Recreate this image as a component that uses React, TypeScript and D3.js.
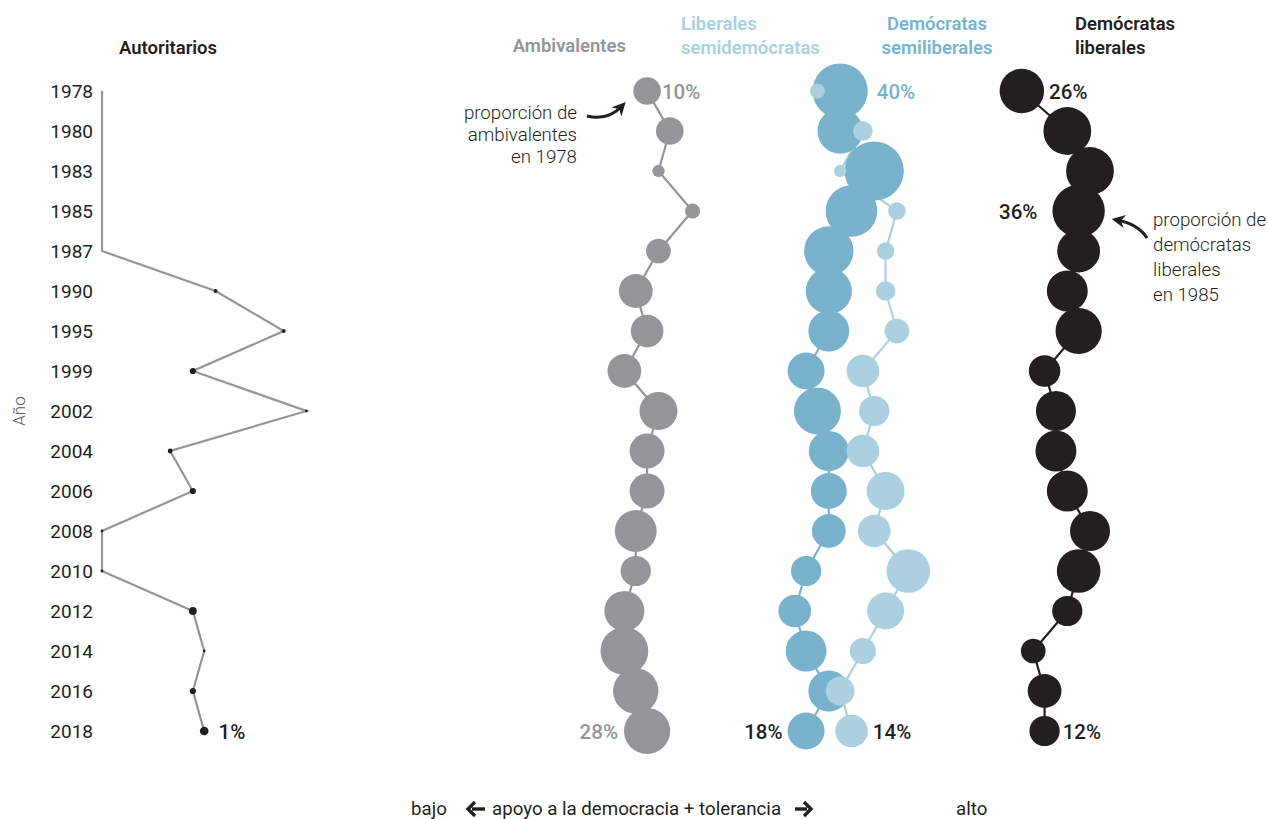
import React, { useRef, useEffect } from 'react';
import * as d3 from 'd3';

// años de la encuesta
const years = ['1978', '1980', '1983', '1985', '1987', '1990', '1995', '1999', '2002', '2004', '2006', '2008', '2010', '2012', '2014', '2016', '2018'];

// posición en la escala de apoyo a la democracia + tolerancia (0 = bajo)
const autoritariosPos = [0, 0, 0, 0, 0, 10, 16, 8, 18, 6, 8, 0, 0, 8, 9, 8, 9];
const ambivalentesPos = [48, 50, 49, 52, 49, 47, 48, 46, 49, 48, 48, 47, 47, 46, 46, 47, 48];
const semiliberalesPos = [65, 65, 68, 66, 64, 64, 64, 62, 63, 64, 64, 64, 62, 61, 62, 64, 62];
const semidemocratasPos = [63, 67, 65, 70, 69, 69, 70, 67, 68, 67, 69, 68, 71, 69, 67, 65, 66];
const liberalesPos = [81, 85, 87, 86, 86, 85, 86, 83, 84, 84, 85, 87, 86, 85, 82, 83, 83];

// proporción de cada grupo (%)
const autoritariosPct = [0, 0, 0, 0, 0, 0.2, 0.2, 0.5, 0.1, 0.3, 0.5, 0.1, 0.1, 0.8, 0.1, 0.5, 1];
const ambivalentesPct = [10, 10, 2, 3, 8, 15, 14, 15, 19, 16, 16, 23, 12, 21, 30, 27, 28];
const semiliberalesPct = [40, 27, 46, 35, 32, 28, 22, 18, 29, 21, 17, 15, 12, 14, 22, 22, 18];
const semidemocratasPct = [3, 5, 2, 4, 4, 5, 8, 14, 12, 14, 19, 14, 25, 18, 9, 11, 14];
const liberalesPct = [26, 30, 30, 36, 24, 22, 28, 13, 21, 22, 22, 21, 25, 12, 8, 15, 12];

const GRAY = '#939598';
const DARK = '#231f20';
const BLUE = '#78b2cc';
const LIGHT = '#abd0e0';

interface Series {
    key: string;
    pos: number[];
    pct: number[];
    color: string;
    lineColor: string;
}

const series: Series[] = [
    { key: 'autoritarios', pos: autoritariosPos, pct: autoritariosPct, color: DARK, lineColor: GRAY },
    { key: 'ambivalentes', pos: ambivalentesPos, pct: ambivalentesPct, color: GRAY, lineColor: GRAY },
    { key: 'semiliberales', pos: semiliberalesPos, pct: semiliberalesPct, color: BLUE, lineColor: BLUE },
    { key: 'semidemocratas', pos: semidemocratasPos, pct: semidemocratasPct, color: LIGHT, lineColor: LIGHT },
    { key: 'liberales', pos: liberalesPos, pct: liberalesPct, color: DARK, lineColor: DARK },
];

// etiquetas de porcentaje: serie, índice del año, lado, separación
const pctLabels = [
    { s: 0, i: 16, side: 1, gap: 10, color: DARK },
    { s: 1, i: 0, side: 1, gap: 1, color: GRAY },
    { s: 1, i: 16, side: -1, gap: 6, color: GRAY },
    { s: 2, i: 0, side: 1, gap: 9, color: BLUE },
    { s: 2, i: 16, side: -1, gap: 5, color: DARK },
    { s: 3, i: 16, side: 1, gap: 5, color: DARK },
    { s: 4, i: 0, side: 1, gap: 5, color: DARK },
    { s: 4, i: 3, side: -1, gap: 15, color: DARK },
    { s: 4, i: 16, side: 1, gap: 3, color: DARK },
];

const FONT = 'Roboto, "Open Sans", sans-serif';

const App: React.FC = () => {
    const svgRef = useRef<SVGSVGElement>(null);

    useEffect(() => {
        const width = 1268;
        const height = 819;

        const svg = d3.select(svgRef.current);
        svg.selectAll('*').remove();
        svg.attr('width', width).attr('height', height).style('font-family', FONT);

        const xScale = d3.scaleLinear().domain([0, 87]).range([102, 1090]);
        const yScale = d3.scalePoint<string>().domain(years).range([91, 731]);
        const rScale = d3.scaleSqrt().domain([0, 40]).range([0, 27.6]);

        const defs = svg.append('defs');
        defs.append('marker')
            .attr('id', 'head')
            .attr('viewBox', '0 0 10 10')
            .attr('refX', 6)
            .attr('refY', 5)
            .attr('markerWidth', 4.2)
            .attr('markerHeight', 4.2)
            .attr('orient', 'auto')
            .append('path')
            .attr('d', 'M0,0 L10,5 L0,10 L3,5 Z')
            .attr('fill', DARK);

        // eje de años
        svg.append('g')
            .selectAll('text')
            .data(years)
            .join('text')
            .attr('x', 93)
            .attr('y', d => (yScale(d) || 0) + 7)
            .attr('text-anchor', 'end')
            .attr('font-size', 19)
            .attr('fill', DARK)
            .text(d => d);

        svg.append('text')
            .attr('transform', 'translate(25,411) rotate(-90)')
            .attr('text-anchor', 'middle')
            .attr('font-size', 17)
            .attr('font-weight', 300)
            .attr('fill', '#58595b')
            .text('Año');

        // líneas primero, luego círculos
        const line = d3.line<number>()
            .x(d => xScale(d))
            .y((_, i) => yScale(years[i]) || 0);

        series.forEach(s => {
            svg.append('path')
                .datum(s.pos)
                .attr('fill', 'none')
                .attr('stroke', s.lineColor)
                .attr('stroke-width', 2.2)
                .attr('d', line);
        });

        series.forEach(s => {
            svg.append('g')
                .selectAll('circle')
                .data(s.pos)
                .join('circle')
                .attr('cx', d => xScale(d))
                .attr('cy', (_, i) => yScale(years[i]) || 0)
                .attr('r', (_, i) => rScale(s.pct[i]))
                .attr('fill', s.color);
        });

        // porcentajes
        pctLabels.forEach(l => {
            const s = series[l.s];
            const cx = xScale(s.pos[l.i]);
            const r = rScale(s.pct[l.i]);
            svg.append('text')
                .attr('x', cx + l.side * (r + l.gap))
                .attr('y', (yScale(years[l.i]) || 0) + 8)
                .attr('text-anchor', l.side > 0 ? 'start' : 'end')
                .attr('font-size', 20.5)
                .attr('font-weight', 500)
                .attr('fill', l.color)
                .text(`${s.pct[l.i]}%`);
        });

        // títulos
        const titles = [
            { lines: ['Autoritarios'], x: 119, anchor: 'start', color: DARK, y: 54 },
            { lines: ['Ambivalentes'], x: 626, anchor: 'end', color: GRAY, y: 52 },
            { lines: ['Liberales', 'semidemócratas'], x: 681, anchor: 'start', color: LIGHT, y: 30 },
            { lines: ['Demócratas', 'semiliberales'], x: 937, anchor: 'middle', color: BLUE, y: 30 },
            { lines: ['Demócratas', 'liberales'], x: 1075, anchor: 'start', color: DARK, y: 30 },
        ];
        titles.forEach(t => {
            const txt = svg.append('text')
                .attr('text-anchor', t.anchor)
                .attr('font-size', 18.5)
                .attr('font-weight', 600)
                .attr('fill', t.color);
            t.lines.forEach((ln, k) => {
                txt.append('tspan').attr('x', t.x).attr('y', t.y + k * 24).text(ln);
            });
        });

        // anotaciones
        const note1 = svg.append('text')
            .attr('text-anchor', 'end')
            .attr('font-size', 18.7)
            .attr('font-weight', 300)
            .attr('fill', DARK);
        ['proporción de', 'ambivalentes', 'en 1978'].forEach((ln, k) => {
            note1.append('tspan').attr('x', 577).attr('y', 119 + k * 22).text(ln);
        });
        svg.append('path')
            .attr('d', 'M587,116 Q608,121 622,106')
            .attr('fill', 'none')
            .attr('stroke', DARK)
            .attr('stroke-width', 3.2)
            .attr('marker-end', 'url(#head)');

        const note2 = svg.append('text')
            .attr('text-anchor', 'start')
            .attr('font-size', 18.7)
            .attr('font-weight', 300)
            .attr('fill', DARK);
        ['proporción de', 'demócratas', 'liberales', 'en 1985'].forEach((ln, k) => {
            note2.append('tspan').attr('x', 1153).attr('y', 226 + k * 25).text(ln);
        });
        svg.append('path')
            .attr('d', 'M1147,238 Q1138,224 1117,220')
            .attr('fill', 'none')
            .attr('stroke', DARK)
            .attr('stroke-width', 3.2)
            .attr('marker-end', 'url(#head)');

        // eje inferior
        const bottom = svg.append('g').attr('font-size', 18.7).attr('fill', DARK);
        bottom.append('text').attr('x', 411).attr('y', 815).text('bajo');
        bottom.append('text').attr('x', 492).attr('y', 815).text('apoyo a la democracia + tolerancia');
        bottom.append('text').attr('x', 956).attr('y', 815).text('alto');
        const arrow = (x1: number, x2: number) => {
            const dir = Math.sign(x2 - x1);
            bottom.append('path')
                .attr('d', `M${x1},809 L${x2 - dir * 4},809`)
                .attr('stroke', DARK)
                .attr('stroke-width', 3.4);
            bottom.append('path')
                .attr('d', `M${x2 - dir * 7},802 L${x2},809 L${x2 - dir * 7},816`)
                .attr('fill', 'none')
                .attr('stroke', DARK)
                .attr('stroke-width', 3.4);
        };
        arrow(485, 468);
        arrow(795, 811);
    }, []);

    return (
        <div style={{ position: 'absolute', left: 0, top: 0 }}>
            <svg ref={svgRef}></svg>
        </div>
    );
};

export default App;
